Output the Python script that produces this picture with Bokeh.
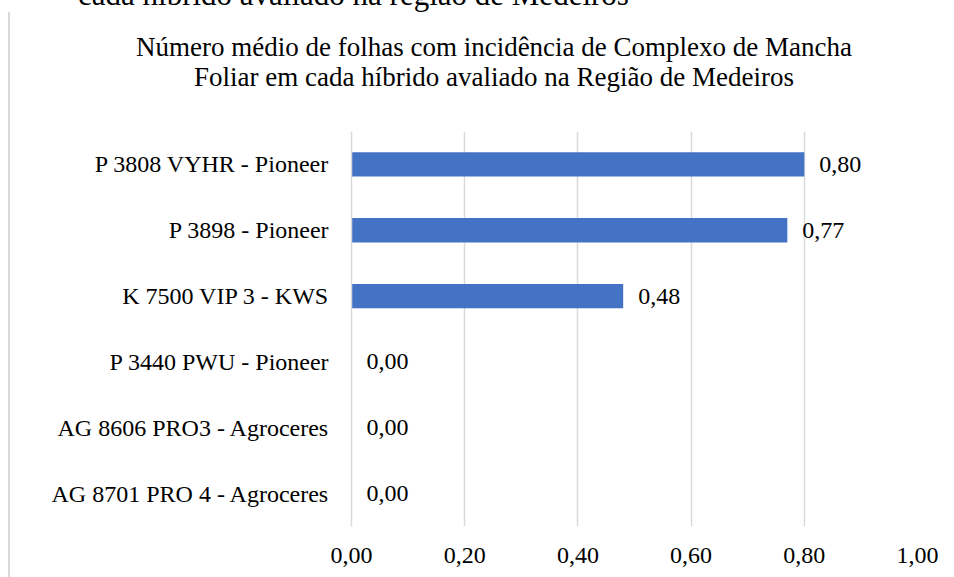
from bokeh.plotting import figure
from bokeh.models import (ColumnDataSource, FactorRange, Range1d, FixedTicker,
                          LabelSet, Div)
from bokeh.layouts import column
from bokeh.embed import file_html
from bokeh.resources import INLINE

# ---- data ----
categories = ["P 3808 VYHR - Pioneer", "P 3898 - Pioneer", "K 7500 VIP 3 - KWS",
              "P 3440 PWU - Pioneer", "AG 8606 PRO3 - Agroceres",
              "AG 8701 PRO 4 - Agroceres"]
values = [0.80, 0.77, 0.48, 0.00, 0.00, 0.00]
value_labels = ["0,80", "0,77", "0,48", "0,00", "0,00", "0,00"]
x_ticks = [0, 0.2, 0.4, 0.6, 0.8, 1]
x_tick_labels = ["0,00", "0,20", "0,40", "0,60", "0,80", "1,00"]
title_lines = ["Número médio de folhas com incidência de Complexo de Mancha",
               "Foliar em cada híbrido avaliado na Região de Medeiros"]
caption_text = "cada híbrido avaliado na região de Medeiros"

FONT = "Liberation Serif"
BAR = "#4472C4"
GRID = "#d9d9d9"
BORDER = "2px solid #d9d9d9"

# ---- cut-off document text above the chart ----
caption = Div(
    text=('<div style="font:31px/31px \'Liberation Serif\';position:relative;'
          'top:-21px;padding-left:70px;white-space:nowrap;color:black;">'
          f'{caption_text}</div>'),
    width=938, height=12, margin=0, styles={"overflow": "hidden"})

# ---- chart title (two centred lines) ----
title = Div(
    text=('<div style="font:27px/30px \'Liberation Serif\';padding-top:20px;'
          'padding-left:32px;width:936px;box-sizing:border-box;'
          'text-align:center;white-space:nowrap;color:black;">'
          + "<br>".join(title_lines) + '</div>'),
    width=936, height=119, margin=0,
    styles={"overflow": "hidden", "border-left": BORDER})

# ---- main chart ----
src = ColumnDataSource(dict(cat=categories, val=values, lab=value_labels))

p = figure(width=936, height=446, output_backend="svg", toolbar_location=None,
           y_range=FactorRange(*reversed(categories)), x_range=Range1d(0, 1),
           min_border_left=341, min_border_right=29, min_border_top=0,
           min_border_bottom=51, title=None, margin=0)
p.styles = {"border-left": BORDER}
p.outline_line_color = None

p.hbar(y="cat", left=0, right="val", height=0.37, source=src,
       fill_color=BAR, line_color=None)

p.add_layout(LabelSet(x="val", y="cat", text="lab", source=src, x_offset=15,
                      text_baseline="middle", text_align="left",
                      text_font=FONT, text_font_size="24px",
                      text_color="black"))

p.xaxis.ticker = FixedTicker(ticks=x_ticks)
p.xaxis.major_label_overrides = dict(zip(x_ticks, x_tick_labels))
for ax in (p.xaxis[0], p.yaxis[0]):
    ax.axis_line_color = None
    ax.major_tick_line_color = None
    ax.minor_tick_line_color = None
    ax.major_tick_out = 0
    ax.major_tick_in = 0
    ax.major_label_text_font = FONT
    ax.major_label_text_font_size = "24px"
    ax.major_label_text_color = "black"
# the vertical gridline at 0 sits on the frame edge: draw it as the axis line
p.yaxis.axis_line_color = GRID
p.yaxis.axis_line_width = 1.5
p.xaxis.major_label_standoff = 21
p.yaxis.major_label_standoff = 22

p.xgrid.grid_line_color = GRID
p.xgrid.grid_line_width = 1.5
p.ygrid.grid_line_color = None

layout = column(caption, title, p, spacing=0, styles={"margin-left": "8px"})

open("out.html", "w").write(file_html(layout, INLINE))
